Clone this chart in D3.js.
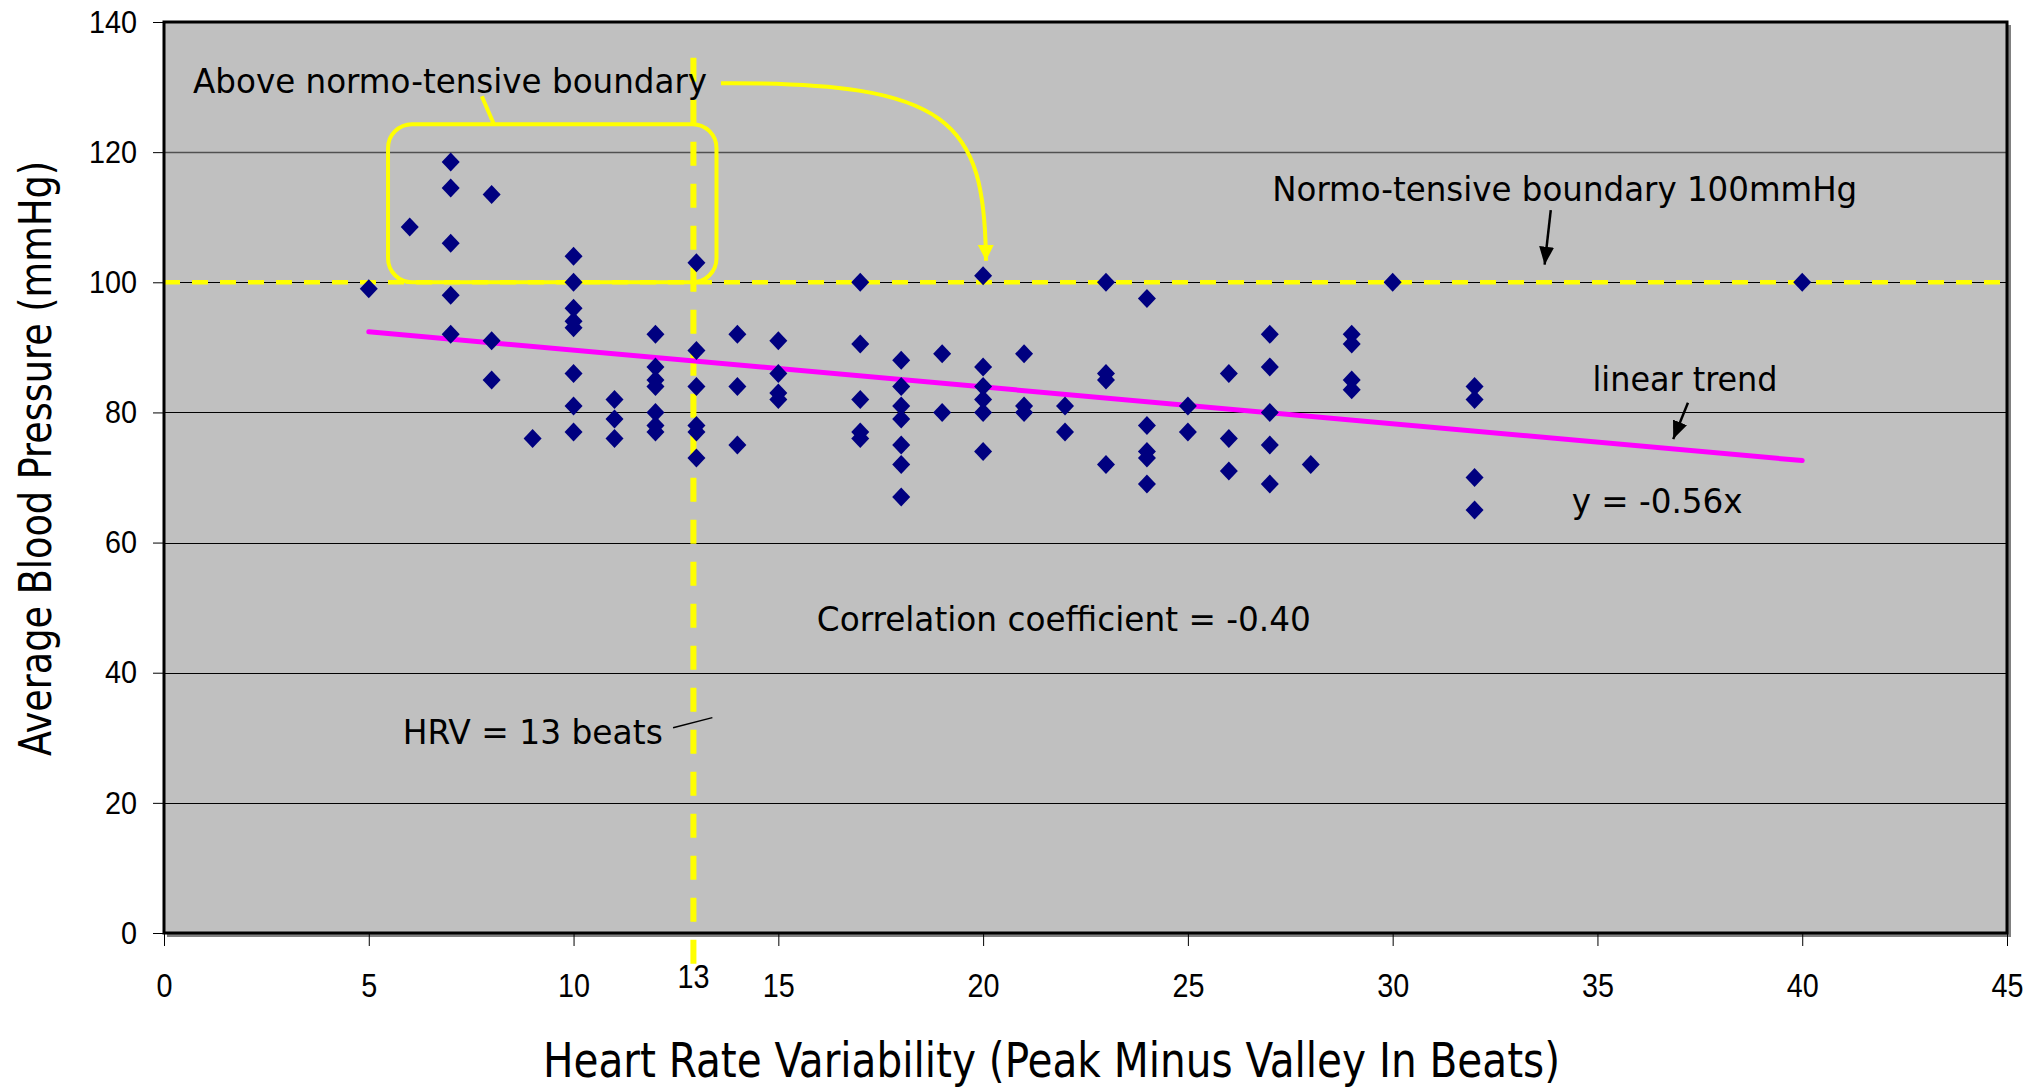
<!DOCTYPE html>
<html>
<head>
<meta charset="utf-8">
<script src="https://cdn.jsdelivr.net/npm/d3@7"></script>
<style>
  body { margin: 0; background: #fff; }
  .note { font-family: "DejaVu Sans Condensed", "DejaVu Sans", sans-serif; font-size: 33px; fill: #000; }
  .title { font-family: "Liberation Sans Narrow", "DejaVu Sans Condensed", sans-serif; fill: #000; }
</style>
</head>
<body>
<svg id="chart" width="2038" height="1092"></svg>
<script>
// HRV (beats) columns and the blood pressure readings found at each one
const hrvColumns = [5, 6, 7, 8, 9, 10, 11, 12, 13, 14, 15, 17, 18, 19, 20, 21, 22, 23, 24, 25, 26, 27, 28, 29, 30, 32, 40];
const bpByColumn = [
  [99],
  [108.5],
  [118.5, 114.5, 106, 98, 92],
  [113.5, 91, 85],
  [76],
  [104, 100, 96, 94, 93, 86, 81, 77],
  [82, 79, 76],
  [92, 87, 85, 84, 80, 78, 77],
  [103, 89.5, 84, 78, 77, 73],
  [92, 84, 75],
  [91, 86, 83, 82],
  [100, 90.5, 82, 77, 76],
  [88, 84, 81, 79, 75, 72, 67],
  [89, 80],
  [101, 87, 84, 82, 80, 74],
  [89, 81, 80],
  [81, 77],
  [100, 86, 85, 72],
  [97.5, 78, 74, 73, 69],
  [81, 77],
  [86, 76, 71],
  [92, 87, 80, 75, 69],
  [72],
  [92, 90.5, 85, 83.5],
  [100],
  [84, 82, 70, 65],
  [100]
];
const xTicks = [0, 5, 10, 15, 20, 25, 30, 35, 40, 45];
const yTicks = [0, 20, 40, 60, 80, 100, 120, 140];
const trendX = [5, 40];
const trendY = [92.4, 72.6];
const boundaryBP = 100;
const thresholdHRV = 13;

const points = [];
hrvColumns.forEach((h, i) => bpByColumn[i].forEach(b => points.push({ hrv: h, bp: b })));

const svg = d3.select("#chart");
const margin = { top: 22, right: 31, bottom: 159, left: 164 };
const width = +svg.attr("width") - margin.left - margin.right;
const height = +svg.attr("height") - margin.top - margin.bottom;
const g = svg.append("g").attr("transform", "translate(" + margin.left + "," + margin.top + ")");

const x = d3.scaleLinear().domain([0, 45]).range([0, width]);
const y = d3.scaleLinear().domain([0, 140]).range([height, 0]);

const defs = svg.append("defs");
function arrowMarker(id, color, len, wid) {
  defs.append("marker")
      .attr("id", id)
      .attr("markerUnits", "userSpaceOnUse")
      .attr("viewBox", "0 0 " + len + " " + wid)
      .attr("refX", len).attr("refY", wid / 2)
      .attr("markerWidth", len).attr("markerHeight", wid)
      .attr("orient", "auto")
    .append("path")
      .attr("d", "M0,0L" + len + "," + (wid / 2) + "L0," + wid + "Z")
      .attr("fill", color);
}
arrowMarker("blackHead", "#000", 18, 15);
arrowMarker("yellowHead", "#ffff00", 16, 16);

// plot area + shadowed frame
g.append("path")
    .attr("d", "M3," + (height + 2.5) + "H" + (width + 2.5) + "V3")
    .attr("fill", "none").attr("stroke", "#808080").attr("stroke-width", 3);
g.append("rect")
    .attr("width", width).attr("height", height)
    .attr("fill", "#c0c0c0");

// gridlines
g.append("g")
    .selectAll("line")
    .data(yTicks.slice(1, -1))
    .enter().append("line")
      .attr("x1", 0).attr("x2", width)
      .attr("y1", d => Math.round(y(d)) + 0.5).attr("y2", d => Math.round(y(d)) + 0.5)
      .attr("stroke", d => d === 120 ? "#505050" : "#000")
      .attr("stroke-width", d => d === 120 ? 1.6 : 1);

// normotensive boundary
g.append("line")
    .attr("x1", 0).attr("x2", width)
    .attr("y1", y(boundaryBP)).attr("y2", y(boundaryBP))
    .attr("stroke", "#ffff00").attr("stroke-width", 4.5)
    .attr("stroke-dasharray", "16,12");

// HRV threshold
g.append("line")
    .attr("x1", x(thresholdHRV) - 3).attr("x2", x(thresholdHRV) - 3)
    .attr("y1", y(134.5)).attr("y2", height + 33)
    .attr("stroke", "#ffff00").attr("stroke-width", 6)
    .attr("stroke-dasharray", "24,18");

// annotation box round the high readings
g.append("rect")
    .attr("x", x(5.47)).attr("y", y(124.3))
    .attr("width", x(13.49) - x(5.47)).attr("height", y(100) - y(124.3))
    .attr("rx", 24).attr("ry", 24)
    .attr("fill", "none").attr("stroke", "#ffff00").attr("stroke-width", 4);

// trend line
g.append("path")
    .datum(trendX.map((d, i) => [d, trendY[i]]))
    .attr("d", d3.line().x(d => x(d[0])).y(d => y(d[1])))
    .attr("fill", "none").attr("stroke", "#ff00ff").attr("stroke-width", 5)
    .attr("stroke-linecap", "round");

// points
g.append("g")
    .selectAll("path")
    .data(points)
    .enter().append("path")
      .attr("transform", d => "translate(" + x(d.hrv) + "," + y(d.bp) + ")")
      .attr("d", "M0,-9.5L9,0L0,9.5L-9,0Z")
      .attr("fill", "#000080");

// frame on top
g.append("rect")
    .attr("x", 0).attr("y", 0)
    .attr("width", width).attr("height", height)
    .attr("fill", "none").attr("stroke", "#000").attr("stroke-width", 3);

// axes
const yAxis = g.append("g")
    .call(d3.axisLeft(y).tickValues(yTicks).tickSize(10).tickPadding(17));
yAxis.select(".domain").remove();
yAxis.selectAll(".tick line").attr("stroke", "#000").attr("transform", "translate(-1,0)");
yAxis.selectAll(".tick text")
    .attr("font-family", "'Liberation Sans', Arial, sans-serif")
    .attr("font-size", 32).attr("fill", "#000")
    .attr("textLength", d => String(d).length * 16).attr("lengthAdjust", "spacingAndGlyphs");

const xAxis = g.append("g")
    .attr("transform", "translate(0," + height + ")")
    .call(d3.axisBottom(x).tickValues(xTicks).tickSize(12).tickPadding(29));
xAxis.select(".domain").remove();
xAxis.selectAll(".tick line").attr("stroke", "#000").attr("transform", "translate(0,1)");
xAxis.selectAll(".tick text")
    .attr("font-family", "'Liberation Sans', Arial, sans-serif")
    .attr("font-size", 33).attr("fill", "#000")
    .attr("textLength", d => String(d).length * 16).attr("lengthAdjust", "spacingAndGlyphs");

g.append("text")
    .attr("x", x(thresholdHRV) - 3).attr("y", height + 55)
    .attr("text-anchor", "middle")
    .attr("font-family", "'Liberation Sans', Arial, sans-serif")
    .attr("font-size", 33)
    .attr("textLength", 32).attr("lengthAdjust", "spacingAndGlyphs")
    .text("13");

// axis titles
svg.append("text")
    .attr("class", "title")
    .attr("x", 543).attr("y", 1077)
    .attr("font-size", 48)
    .attr("textLength", 1017).attr("lengthAdjust", "spacingAndGlyphs")
    .text("Heart Rate Variability (Peak Minus Valley In Beats)");

svg.append("text")
    .attr("class", "title")
    .attr("transform", "translate(51,756) rotate(-90)")
    .attr("font-size", 44)
    .attr("textLength", 595).attr("lengthAdjust", "spacingAndGlyphs")
    .text("Average Blood Pressure (mmHg)");

// annotations
function note(xv, yv, str, len) {
  g.append("text")
      .attr("class", "note")
      .attr("x", x(xv)).attr("y", y(yv))
      .attr("textLength", len).attr("lengthAdjust", "spacingAndGlyphs")
      .text(str);
}
note(0.71, 129.1, "Above normo-tensive boundary", 514);
note(27.06, 112.5, "Normo-tensive boundary 100mmHg", 585);
note(34.88, 83.3, "linear trend", 185);
note(34.37, 64.6, "y = -0.56x", 171);
note(15.94, 46.4, "Correlation coefficient = -0.40", 494);
note(5.83, 29.05, "HRV = 13 beats", 260);

// pointers
g.append("line")
    .attr("x1", x(7.76)).attr("y1", y(128.6))
    .attr("x2", x(8.06)).attr("y2", y(124.2))
    .attr("stroke", "#ffff00").attr("stroke-width", 4);

g.append("path")
    .attr("d", "M" + x(13.6) + "," + y(130.6) +
               "C" + x(19.2) + "," + y(130.8) + " " + x(20.04) + "," + y(124.9) + " " + x(20.07) + "," + y(103.3))
    .attr("fill", "none").attr("stroke", "#ffff00").attr("stroke-width", 4)
    .attr("marker-end", "url(#yellowHead)");

g.append("line")
    .attr("x1", x(33.86)).attr("y1", y(111.1))
    .attr("x2", x(33.71)).attr("y2", y(102.7))
    .attr("stroke", "#000").attr("stroke-width", 2.5)
    .attr("marker-end", "url(#blackHead)");

g.append("line")
    .attr("x1", x(37.21)).attr("y1", y(81.5))
    .attr("x2", x(36.85)).attr("y2", y(75.9))
    .attr("stroke", "#000").attr("stroke-width", 2.5)
    .attr("marker-end", "url(#blackHead)");

g.append("line")
    .attr("x1", x(12.43)).attr("y1", y(31.55))
    .attr("x2", x(13.39)).attr("y2", y(33.1))
    .attr("stroke", "#000").attr("stroke-width", 1.5);
</script>
</body>
</html>
